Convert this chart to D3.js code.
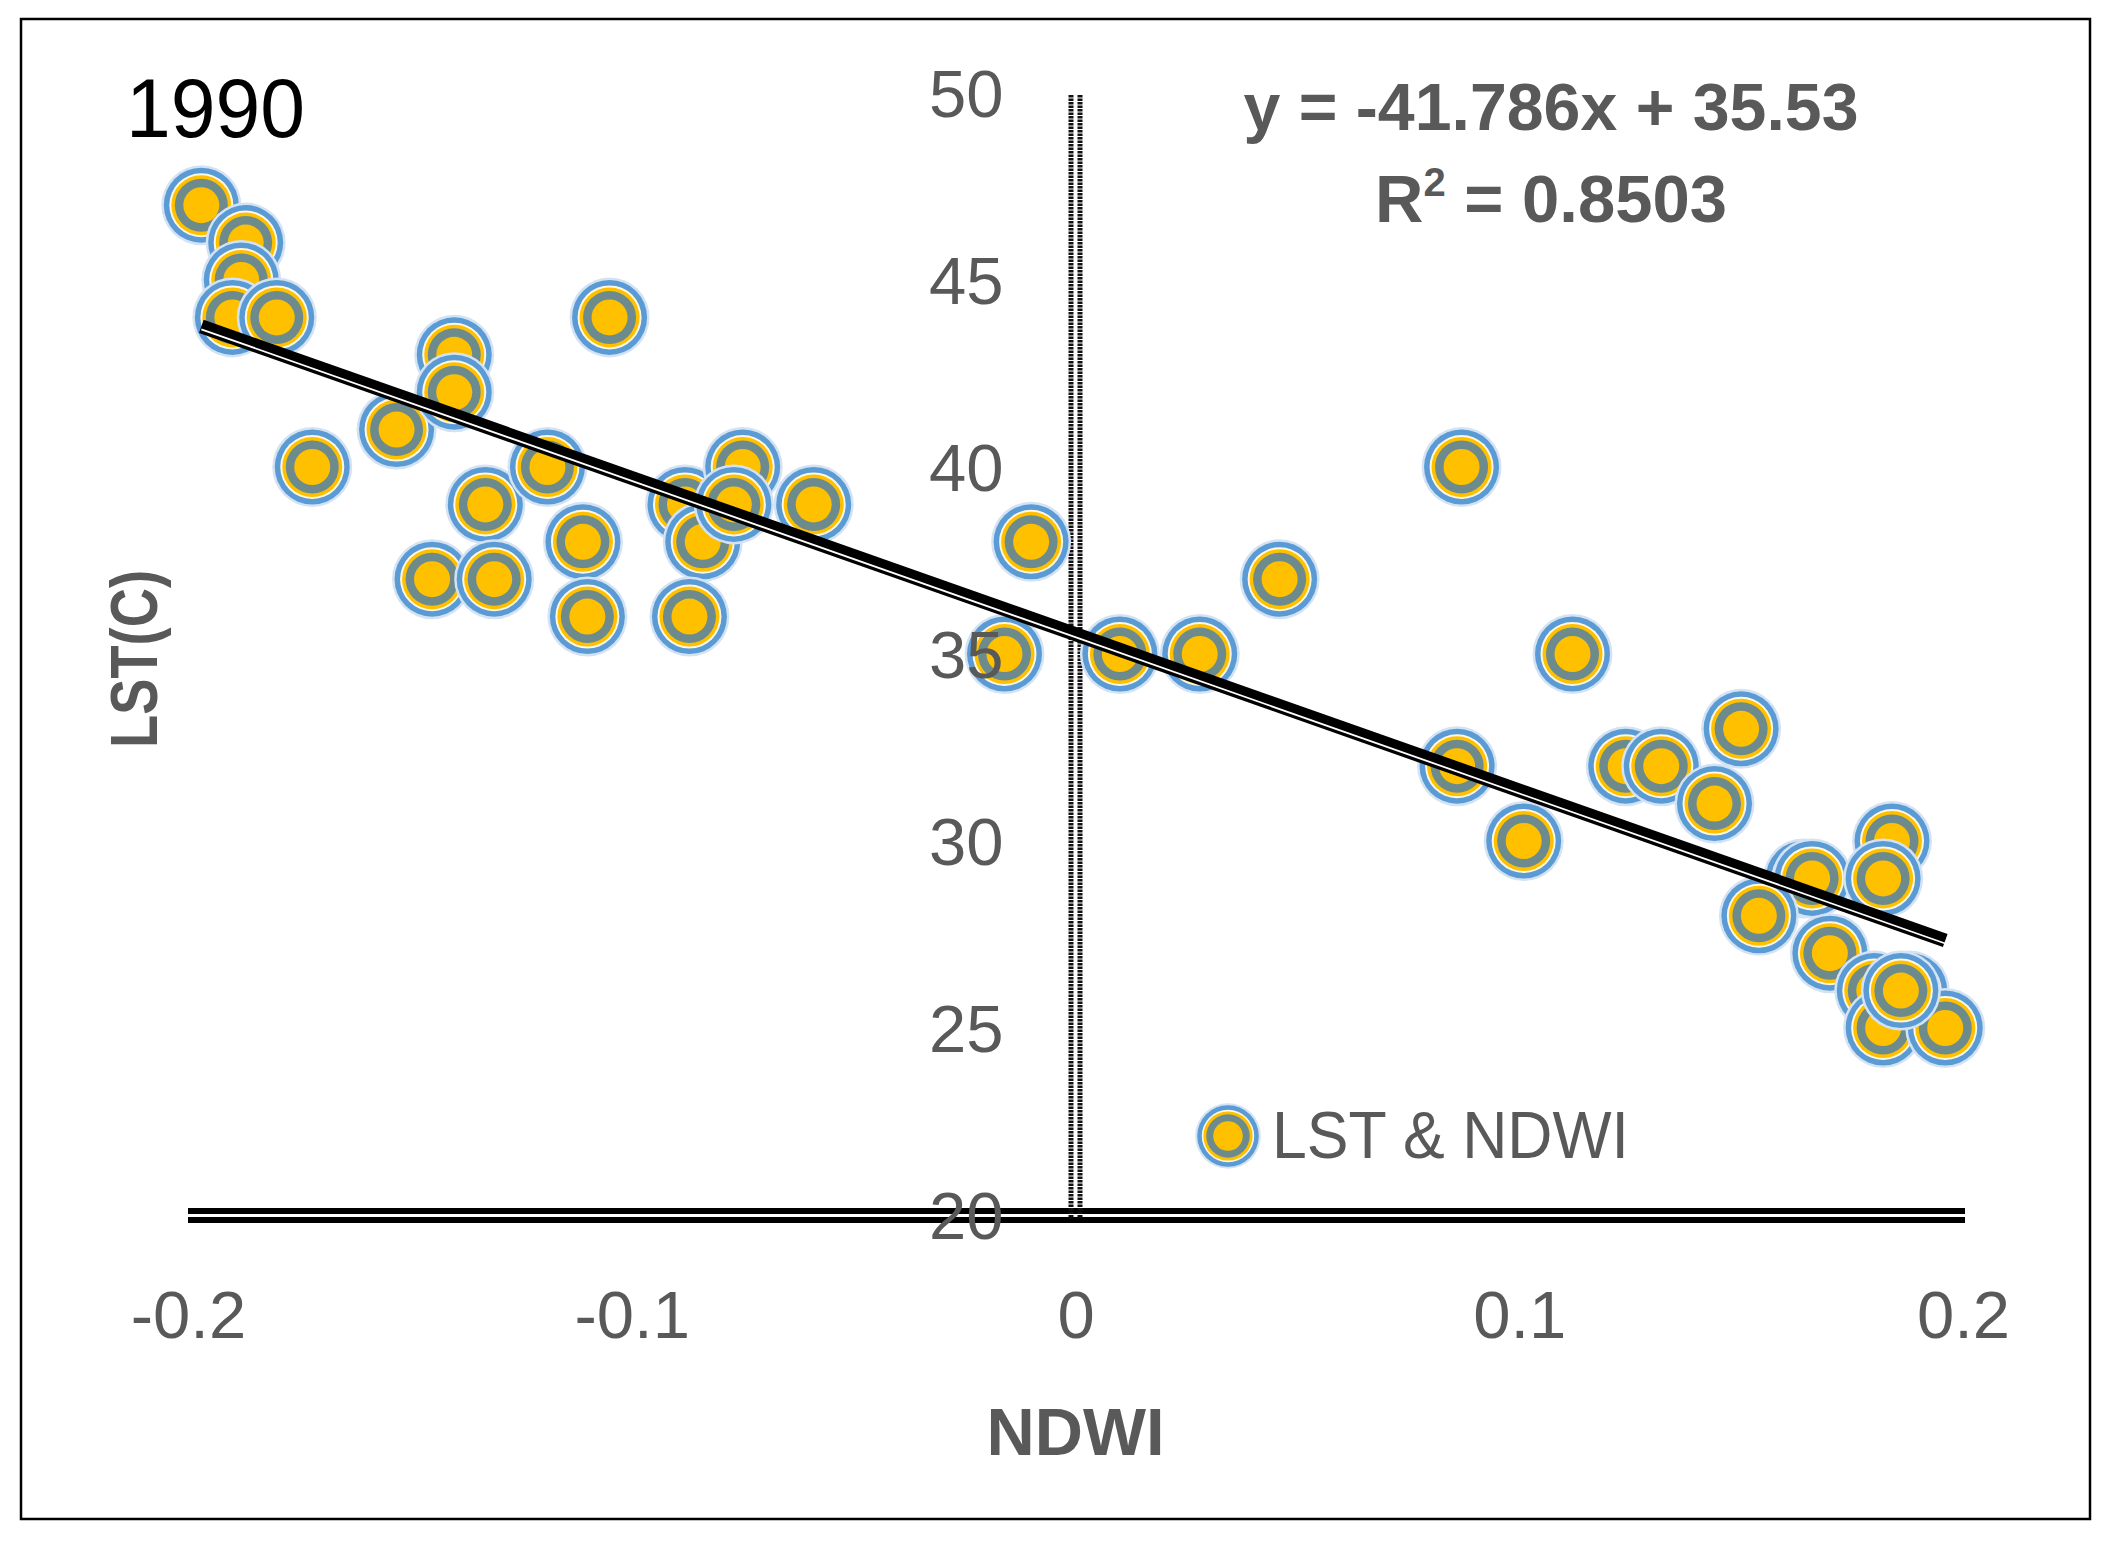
<!DOCTYPE html>
<html>
<head>
    <meta charset="utf-8">
    <title>LST vs NDWI 1990</title>
    <script src="https://cdn.jsdelivr.net/npm/d3@7/dist/d3.min.js"></script>
    <style>
        body { margin: 0; background: #fff; }
        text { font-family: "Liberation Sans", Arial, sans-serif; }
    </style>
</head>
<body>
<script>
    // NDWI (x) and LST in degrees C (y)
    var ndwi = [-0.197, -0.187, -0.188, -0.190, -0.180, -0.172, -0.153, -0.140, -0.140, -0.145,
                -0.133, -0.131, -0.119, -0.111, -0.110, -0.105, -0.088, -0.084, -0.087, -0.075,
                -0.077, -0.059, -0.010, -0.016, 0.010, 0.028, 0.046, 0.087, 0.086, 0.101,
                0.112, 0.124, 0.132, 0.150, 0.144, 0.164, 0.166, 0.154, 0.170, 0.184,
                0.182, 0.180, 0.188, 0.182, 0.196, 0.186];
    var lst  = [47, 46, 45, 44, 44, 40, 41, 43, 42, 37,
                39, 37, 40, 38, 36, 44, 39, 38, 36, 40,
                39, 39, 38, 35, 35, 35, 37, 40, 32, 30,
                35, 32, 32, 33, 31, 29, 29, 28, 27, 30,
                29, 26, 26, 25, 25, 26];

    var slope = -41.786;
    var intercept = 35.53;
    var eqText = "y = -41.786x + 35.53";
    var r2Text = "0.8503";

    var xTickValues = [-0.2, -0.1, 0, 0.1, 0.2];
    var xTickLabels = ["-0.2", "-0.1", "0", "0.1", "0.2"];
    var yTickValues = [20, 25, 30, 35, 40, 45, 50];

    var width = 2112;
    var height = 1544;

    var svg = d3.select("body")
        .append("svg")
        .attr("width", width)
        .attr("height", height);

    var x = d3.scaleLinear().domain([-0.2, 0.2]).range([188, 1963]);
    var y = d3.scaleLinear().domain([20, 50]).range([1215, 93]);

    // outer frame
    svg.append("rect")
        .attr("x", 21).attr("y", 19)
        .attr("width", 2069).attr("height", 1500)
        .attr("fill", "#fff")
        .attr("stroke", "#000")
        .attr("stroke-width", 2.5);

    // x axis: double line
    [-4, 5].forEach(function(off){
        svg.append("line")
            .attr("x1", x(-0.2)).attr("x2", x(0.2) + 2)
            .attr("y1", y(20) + off).attr("y2", y(20) + off)
            .attr("stroke", "#000")
            .attr("stroke-width", 6);
    });

    // y axis: double dotted line at x = 0
    [-4.5, 4.5].forEach(function(off){
        svg.append("line")
            .attr("x1", x(0) + off).attr("x2", x(0) + off)
            .attr("y1", y(50) + 2).attr("y2", y(20) + 4)
            .attr("stroke", "#111")
            .attr("stroke-width", 5)
            .attr("stroke-dasharray", "2.5,1");
    });

    // marker rings, outermost first
    var rings = [
        {r: 40, fill: "#d3e3f4"},
        {r: 37.5, fill: "#5b9bd5"},
        {r: 32, fill: "#fdf7e0"},
        {r: 30, fill: "#ffc000"},
        {r: 26.5, fill: "#6d8b8c"},
        {r: 18, fill: "#ffc000"}
    ];

    function drawMarker(g, k)
    {
        rings.forEach(function(ring){
            g.append("circle")
                .attr("r", ring.r * k)
                .attr("fill", ring.fill);
        });
    }

    var points = ndwi.map(function(d, i){ return {x: d, y: lst[i]}; });

    svg.append("g").selectAll("g")
        .data(points)
        .enter()
        .append("g")
        .attr("transform", function(d){
            return "translate(" + x(d.x) + "," + y(d.y) + ")";
        })
        .each(function(){ drawMarker(d3.select(this), 1); });

    // trendline (thick-thin compound line)
    var xmin = d3.min(ndwi), xmax = d3.max(ndwi);
    var trend = [xmin, xmax].map(function(v){ return [x(v), y(slope * v + intercept)]; });
    var line = d3.line();

    svg.append("path")
        .attr("d", line(trend))
        .attr("stroke", "#000")
        .attr("stroke-width", 14)
        .attr("fill", "none");
    svg.append("path")
        .attr("d", line(trend))
        .attr("transform", "translate(0,3)")
        .attr("stroke", "#fff")
        .attr("stroke-width", 1.8)
        .attr("fill", "none");

    // tick labels
    var xAxis = d3.axisBottom(x)
        .tickValues(xTickValues)
        .tickFormat(function(d, i){ return xTickLabels[i]; })
        .tickSize(0)
        .tickPadding(75);

    var gx = svg.append("g")
        .attr("transform", "translate(0," + y(20) + ")")
        .call(xAxis);
    gx.select(".domain").remove();
    gx.selectAll("text")
        .attr("font-size", "67px")
        .attr("font-family", "Liberation Sans, Arial, sans-serif")
        .attr("fill", "#595959");

    var yAxis = d3.axisLeft(y)
        .tickValues(yTickValues)
        .tickSize(0)
        .tickPadding(72);

    var gy = svg.append("g")
        .attr("transform", "translate(" + x(0) + ",0)")
        .call(yAxis);
    gy.select(".domain").remove();
    gy.selectAll("text")
        .attr("dy", "0.35em")
        .attr("font-size", "67px")
        .attr("font-family", "Liberation Sans, Arial, sans-serif")
        .attr("fill", "#595959");

    // axis titles
    svg.append("text")
        .attr("x", x(0))
        .attr("y", 1455)
        .attr("text-anchor", "middle")
        .attr("font-size", "67px")
        .attr("font-weight", "bold")
        .attr("fill", "#595959")
        .attr("textLength", 178)
        .attr("lengthAdjust", "spacingAndGlyphs")
        .text("NDWI");

    svg.append("text")
        .attr("transform", "translate(157,659) rotate(-90)")
        .attr("text-anchor", "middle")
        .attr("font-size", "67px")
        .attr("font-weight", "bold")
        .attr("fill", "#595959")
        .attr("textLength", 178)
        .attr("lengthAdjust", "spacingAndGlyphs")
        .text("LST(C)");

    // year label
    svg.append("text")
        .attr("x", 126)
        .attr("y", 137)
        .attr("font-size", "84px")
        .attr("fill", "#000")
        .attr("textLength", 179)
        .attr("lengthAdjust", "spacingAndGlyphs")
        .text("1990");

    // regression equation
    svg.append("text")
        .attr("x", 1551)
        .attr("y", 130)
        .attr("text-anchor", "middle")
        .attr("font-size", "67px")
        .attr("font-weight", "bold")
        .attr("fill", "#595959")
        .attr("textLength", 615)
        .attr("lengthAdjust", "spacingAndGlyphs")
        .text(eqText);

    var r2 = svg.append("text")
        .attr("x", 1551)
        .attr("y", 222)
        .attr("text-anchor", "middle")
        .attr("font-size", "67px")
        .attr("font-weight", "bold")
        .attr("fill", "#595959");
    r2.append("tspan").text("R");
    r2.append("tspan").attr("font-size", "40px").attr("dy", -26).text("2");
    r2.append("tspan").attr("dy", 26).text(" = " + r2Text);

    // legend
    var lg = svg.append("g").attr("transform", "translate(1228,1136)");
    drawMarker(lg, 0.82);
    svg.append("text")
        .attr("x", 1272)
        .attr("y", 1158)
        .attr("font-size", "67px")
        .attr("fill", "#595959")
        .attr("textLength", 357)
        .attr("lengthAdjust", "spacingAndGlyphs")
        .text("LST & NDWI");
</script>
</body>
</html>
